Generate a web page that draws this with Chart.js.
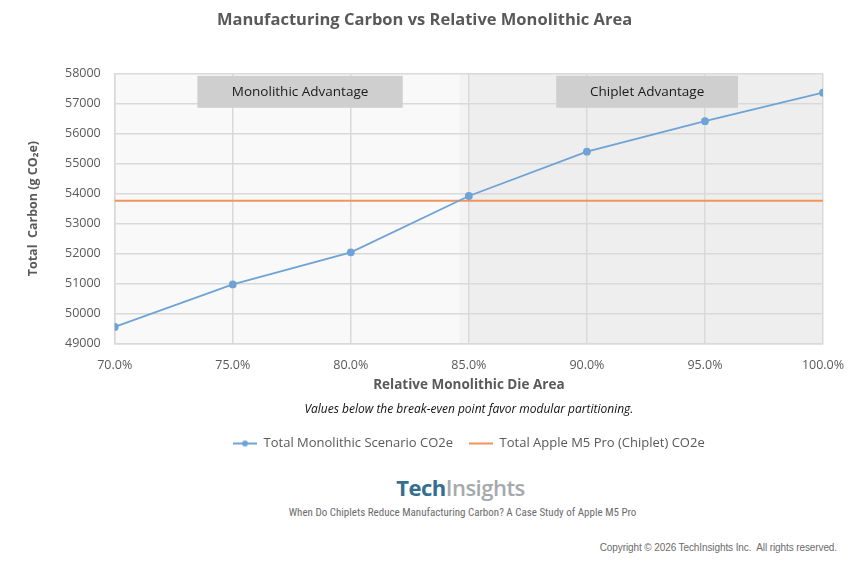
<!DOCTYPE html>
<html>
<head>
<meta charset="utf-8">
<script src="https://cdn.jsdelivr.net/npm/chart.js@4/dist/chart.umd.min.js"></script>
<style>
  html, body { margin: 0; padding: 0; background: #fff; }
  body { width: 865px; height: 563px; position: relative; overflow: hidden; font-family: "Open Sans", sans-serif; }
  #wrap { position: absolute; left: 0; top: 0; width: 865px; height: 460px; }
  .logo { position: absolute; left: 28px; width: 865px; top: 472px; text-align: center; font-family: "Open Sans", sans-serif; font-size: 22px; font-weight: 700; letter-spacing: -0.5px; }
  .logo .t { color: #346f8e; }
  .logo .i { color: #a5a9ad; font-weight: 600; }
  .cap { position: absolute; left: 30px; width: 865px; top: 506px; text-align: center; font-family: "Liberation Sans Narrow", "Roboto Condensed", "Liberation Sans", sans-serif; font-size: 11px; color: #6b6b6b; }
  .copy { position: absolute; right: 28px; top: 542px; font-family: "Liberation Sans Narrow", "Liberation Sans", sans-serif; font-size: 10px; letter-spacing: -0.1px; color: #6b6b6b; }
</style>
</head>
<body>
<div id="wrap"><canvas id="carbonChart"></canvas></div>
<div class="logo"><span class="t">Tech</span><span class="i">Insights</span></div>
<div class="cap">When Do Chiplets Reduce Manufacturing Carbon? A Case Study of Apple M5 Pro</div>
<div class="copy">Copyright © 2026 TechInsights Inc.&nbsp; All rights reserved.</div>
<script>
  // die area (% of monolithic) and carbon values
  const dieArea = [70, 75, 80, 85, 90, 95, 100];
  const monolithicCO2 = [49550, 50970, 52040, 53920, 55400, 56420, 57370];
  const chipletCO2 = 53760;
  const breakEven = 84.6;
  const yTicks = [49000, 50000, 51000, 52000, 53000, 54000, 55000, 56000, 57000, 58000];
  const zones = [
    [70, breakEven, '#f9f9f9'],
    [breakEven, 85, '#f3f3f3'],
    [85, 100, '#eeeeee']
  ];
  const labelBoxes = [
    ['Monolithic Advantage', 73.5, 82.2],
    ['Chiplet Advantage', 88.7, 96.4]
  ];

  const blue = '#6fa3d6';
  const orange = '#f0955a';
  const grey = '#595959';

  function legendIcon(color, dot) {
    const c = document.createElement('canvas');
    c.width = 24; c.height = 12;
    const g = c.getContext('2d');
    g.strokeStyle = color;
    g.lineWidth = 2;
    g.beginPath(); g.moveTo(0, 6); g.lineTo(24, 6); g.stroke();
    if (dot) {
      g.fillStyle = color;
      g.beginPath(); g.arc(12, 6, 3, 0, Math.PI * 2); g.fill();
    }
    return c;
  }

  const backdrop = {
    id: 'backdrop',
    beforeDraw(chart) {
      const { ctx, chartArea, scales } = chart;
      ctx.save();
      zones.forEach(z => {
        const x1 = scales.x.getPixelForValue(z[0]);
        const x2 = scales.x.getPixelForValue(z[1]);
        ctx.fillStyle = z[2];
        ctx.fillRect(x1, chartArea.top, x2 - x1, chartArea.bottom - chartArea.top);
      });
      ctx.restore();
    },
    afterDraw(chart) {
      const { ctx, chartArea, scales } = chart;
      ctx.save();
      labelBoxes.forEach(b => {
        const x1 = scales.x.getPixelForValue(b[1]);
        const x2 = scales.x.getPixelForValue(b[2]);
        const top = chartArea.top + 2;
        const h = 32;
        ctx.fillStyle = '#d0cfcf';
        ctx.fillRect(x1, top, x2 - x1, h);
        ctx.fillStyle = '#1a1a1a';
        ctx.font = '13.5px "Open Sans", sans-serif';
        ctx.textAlign = 'center';
        ctx.textBaseline = 'middle';
        ctx.fillText(b[0], (x1 + x2) / 2, top + h / 2);
      });
      ctx.restore();
    }
  };

  const ctx = document.getElementById('carbonChart').getContext('2d');
  const carbonChart = new Chart(ctx, {
    type: 'line',
    data: {
      datasets: [{
        label: 'Total Monolithic Scenario CO2e',
        data: dieArea.map((x, i) => ({ x: x, y: monolithicCO2[i] })),
        borderColor: blue,
        backgroundColor: blue,
        borderWidth: 1.8,
        pointRadius: 3,
        pointHoverRadius: 3,
        tension: 0
      }, {
        label: 'Total Apple M5 Pro (Chiplet) CO2e',
        data: [{ x: dieArea[0], y: chipletCO2 }, { x: dieArea[dieArea.length - 1], y: chipletCO2 }],
        borderColor: orange,
        backgroundColor: orange,
        borderWidth: 2,
        pointRadius: 0,
        tension: 0
      }]
    },
    options: {
      responsive: true,
      maintainAspectRatio: false,
      animation: false,
      layout: { padding: { left: 26, right: 42, top: 6, bottom: 0 } },
      scales: {
        x: {
          type: 'linear',
          min: 70, max: 100,
          afterBuildTicks: axis => { axis.ticks = dieArea.map(v => ({ value: v })); },
          ticks: {
            color: grey,
            font: { family: '"Open Sans", sans-serif', size: 12.5 },
            padding: 15,
            maxRotation: 0,
            callback: v => v.toFixed(1) + '%'
          },
          grid: { color: '#d9d9d9', lineWidth: 1.5, drawTicks: false },
          border: { color: '#d9d9d9', width: 1.5 },
          title: {
            display: true,
            text: 'Relative Monolithic Die Area',
            color: grey,
            font: { family: '"Open Sans", sans-serif', size: 13.5, weight: 'bold' },
            padding: { top: -11, bottom: 0 }
          }
        },
        y: {
          min: 49000, max: 58000,
          afterBuildTicks: axis => { axis.ticks = yTicks.map(v => ({ value: v })); },
          ticks: {
            color: grey,
            font: { family: '"Open Sans", sans-serif', size: 12.5 },
            padding: 14,
            callback: v => String(v)
          },
          grid: { color: '#d9d9d9', lineWidth: 1.5, drawTicks: false },
          border: { color: '#d9d9d9', width: 1.5 },
          title: {
            display: true,
            text: 'Total  Carbon (g CO₂e)',
            color: grey,
            font: { family: '"Open Sans", sans-serif', size: 12.5, weight: 'bold' },
            padding: { top: 0, bottom: 10 }
          }
        }
      },
      plugins: {
        title: {
          display: true,
          text: 'Manufacturing Carbon vs Relative Monolithic Area',
          color: grey,
          font: { family: '"Open Sans", sans-serif', size: 16.5, weight: 'bold' },
          padding: { top: 4, bottom: 44 }
        },
        subtitle: {
          display: true,
          position: 'bottom',
          fullSize: false,
          weight: 500,
          text: 'Values below the break-even point favor modular partitioning.',
          color: '#111',
          font: { family: '"Open Sans", sans-serif', size: 12, style: 'italic' },
          padding: { top: 9, bottom: 4 }
        },
        legend: {
          position: 'bottom',
          fullSize: false,
          labels: {
            color: grey,
            font: { family: '"Open Sans", sans-serif', size: 13 },
            usePointStyle: true,
            pointStyleWidth: 24,
            padding: 16,
            generateLabels: chart => chart.data.datasets.map((d, i) => ({
              text: d.label,
              fontColor: grey,
              pointStyle: legendIcon(d.borderColor, i === 0),
              datasetIndex: i,
              hidden: false,
              lineWidth: 0
            }))
          }
        },
        tooltip: { enabled: false }
      }
    },
    plugins: [backdrop]
  });
</script>
</body>
</html>
